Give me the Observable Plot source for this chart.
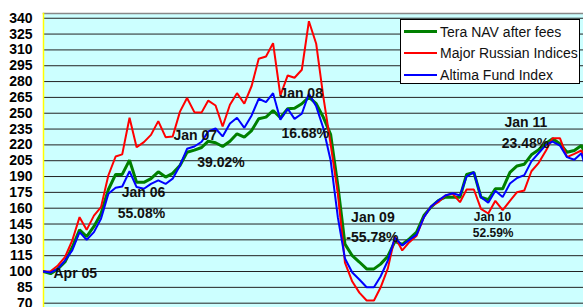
<!DOCTYPE html>
<html><head><meta charset="utf-8">
<script src="https://cdn.jsdelivr.net/npm/d3@7"></script>
<script src="https://cdn.jsdelivr.net/npm/@observablehq/plot@0.6"></script>
<style>
body{margin:0;background:#fff;}
#wrap{position:relative;width:583px;height:307px;overflow:hidden;font-family:"Liberation Sans",Arial,sans-serif;}
#legend{position:absolute;left:400px;top:19px;width:180px;height:65px;background:#fff;border:1px solid #000;box-sizing:border-box;}
.row{position:absolute;left:2.7px;height:20px;display:flex;align-items:center;font-size:14px;color:#111;white-space:nowrap;}
.sw{width:33px;margin-right:3.4px;}
</style></head><body><div id="wrap"></div>
<script>
const seriesNames = ["Tera NAV after fees", "Major Russian Indices", "Altima Fund Index"];
const seriesColors = ["#008000", "#ff0000", "#0000ff"];
const seriesWidths = [3, 2, 2];
// monthly values starting Apr 2005
const tera = [100,98,102.5,109,123,139.5,133,142.7,154.7,177.5,192,192,205.5,184.5,184.5,188,194.5,189.5,193,200.5,
  213,215,217.5,223.5,222,218.5,223.5,230.5,227.3,233.6,244.7,246.3,252.6,245.7,254.2,254.8,259,265.2,259,246.3,
  230,181,126,115,109,102.5,102.5,107,114.5,128.5,125.6,131,137.3,153,161,167.3,170.4,170.4,170.4,192,
  194,170.4,168,178.4,178.4,194,200,201.7,210.6,215.4,221.6,225.8,221,213,214.7,219.4,205];
const russian = [100,100.3,105.7,113.6,129.4,151.5,139.5,153,161,191,209,211,245.7,217.8,222.6,229.5,242.5,227.3,228,251.5,
  264.5,251,250.8,262,257.3,237.4,258,269,259,275.8,301.6,303.8,316.4,266.8,285.8,283.6,291.2,337.2,315.8,266,
  221,173.6,108.5,90.5,80,72.5,72.5,84.8,103,133,120,127.8,134,151.5,161.6,165.7,172,173.6,165.7,177.7,
  177.7,159.4,155,167,158.2,167,175.2,176.8,195,203,214.7,226.4,226.4,208.4,211.5,214.7,198];
const altima = [100,99,102.5,110.4,120,137.3,130,137.3,150,173.6,179.3,180.6,195,180,178.4,183,186.3,183,188,200.5,
  216.3,218.5,223,232.8,235.5,228,240.3,245.7,236.2,247.9,263.7,260.5,269,243.8,254.2,244.7,249.5,268.5,256.5,236,
  205.5,151,112.3,99,92.4,85.1,85.1,95.3,110.4,132,124.6,130,135,151.5,161.6,167.3,172,174.2,172,190,
  194.1,170.5,165.2,176.5,170.5,183.4,188.6,191.3,204.4,212.3,220,223.2,219.4,208.4,205.9,212,188];
const yTicks = [70,85,100,115,130,145,160,175,190,205,220,235,250,265,280,295,310,325,340];
// annotation texts, anchored at (month index from Apr 05, value)
const noteText = ["Apr 05","Jan 06","55.08%","Jan 07","39.02%","Jan 08","16.68%","Jan 09","-55.78%","Jan 10","52.59%","Jan 11","23.48%"];
const noteMonth = [1.39,13.95,13.64,21.15,24.73,35.91,36.47,45.91,45.84,62.58,62.67,67.22,67.18];
const noteValue = [98.4,174.6,155.3,228.9,203,268.4,230.5,150.9,132.5,151.5,136.3,240.9,221.6];
const noteSmall = [false,false,false,false,false,false,false,false,false,true,true,false,false];

const t0 = Date.UTC(2005, 3, 1);
const monthDate = i => new Date(Date.UTC(2005, 3 + i, 1));
const fracDate = f => new Date(t0 + f * 30.44 * 864e5);

const allSeries = [tera, russian, altima];
const lineData = allSeries.map((vals, s) => vals.map((v, i) => ({date: monthDate(i), value: v, series: seriesNames[s]})));
const notes = noteText.map((t, k) => ({text: t, date: fracDate(noteMonth[k]), value: noteValue[k], small: noteSmall[k], first: k === 0}));

const chart = Plot.plot({
  width: 583, height: 307,
  marginLeft: 43, marginRight: 0, marginTop: 13, marginBottom: 0,
  style: {fontFamily: "'Liberation Sans', Arial, sans-serif", background: "#fff", overflow: "hidden"},
  x: {type: "utc", domain: [new Date(t0), new Date(Date.UTC(2011, 6, 10))], axis: null},
  y: {domain: [65.9, 344.5], axis: null},
  marks: [
    Plot.frame({fill: "#ccffff", stroke: "none"}),
    Plot.ruleY(yTicks, {stroke: "#222", strokeWidth: 1}),
    Plot.frame({anchor: "top", stroke: "#888", strokeWidth: 1.5}),
    Plot.frame({anchor: "left", stroke: "#ffff00", strokeWidth: 1.5}),
    ...lineData.map((d, s) => Plot.line(d, {x: "date", y: "value", stroke: seriesColors[s], strokeWidth: seriesWidths[s], strokeLinejoin: "miter", clip: true})),
    Plot.text(notes.filter(d => !d.small && !d.first), {x: "date", y: "value", text: "text", fontSize: 14, fontWeight: "bold", fill: "#111"}),
    Plot.text(notes.filter(d => d.first), {x: "date", y: "value", text: "text", fontSize: 14, fontWeight: "bold", fill: "#111", textAnchor: "start"}),
    Plot.text(notes.filter(d => d.small), {x: "date", y: "value", text: "text", fontSize: 12, fontWeight: "bold", fill: "#111"}),
    Plot.axisY(yTicks, {anchor: "left", tickSize: 0, tickPadding: 11, fontSize: 14, fontWeight: "bold", fill: "#000", label: null})
  ]
});
const wrap = document.getElementById("wrap");
wrap.appendChild(chart);

const legend = document.createElement("div");
legend.id = "legend";
const rowTops = [1.7, 23.3, 45];
seriesNames.forEach((name, s) => {
  const row = document.createElement("div");
  row.className = "row";
  row.style.top = rowTops[s] + "px";
  const sw = document.createElement("div");
  sw.className = "sw";
  sw.style.borderTop = seriesWidths[s] + "px solid " + seriesColors[s];
  row.appendChild(sw);
  const lab = document.createElement("span");
  lab.textContent = name;
  row.appendChild(lab);
  legend.appendChild(row);
});
wrap.appendChild(legend);
</script></body></html>
